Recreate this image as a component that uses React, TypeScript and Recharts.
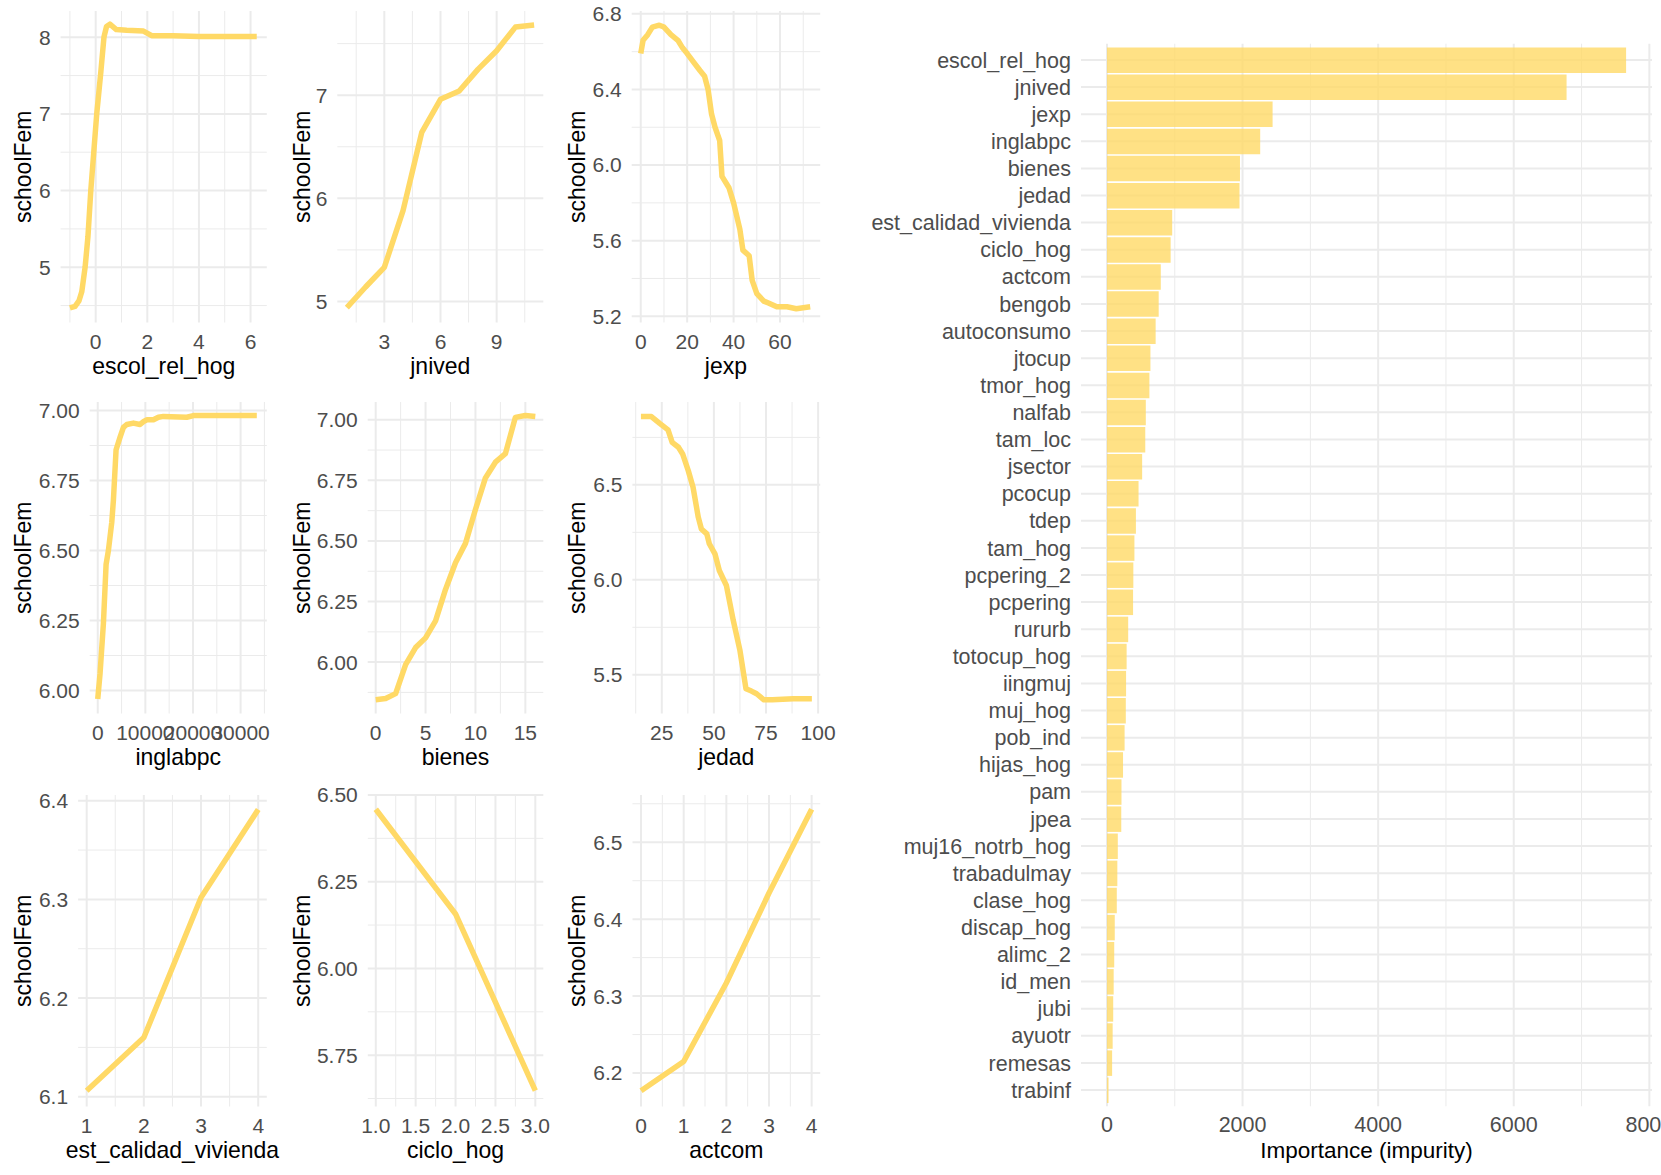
import React from 'react';
import { LineChart, Line, XAxis, YAxis, CartesianGrid, BarChart, Bar } from 'recharts';

// ---------------- data ----------------
const escolX = [-1, -0.8, -0.65, -0.54, -0.41, -0.3, -0.19, 0.04, 0.2, 0.32, 0.42, 0.55, 0.8, 1.2, 1.85, 2.17, 3, 4, 5, 6.24];
const escolY = [4.47, 4.49, 4.56, 4.68, 5.0, 5.4, 6.0, 7.0, 7.55, 8.0, 8.14, 8.17, 8.1, 8.09, 8.08, 8.02, 8.02, 8.01, 8.01, 8.01];

const jnivedX = [1, 2, 3, 4, 5, 6, 7, 8, 9, 10, 11];
const jnivedY = [4.94, 5.14, 5.33, 5.88, 6.64, 6.96, 7.04, 7.25, 7.43, 7.66, 7.68];

const jexpX = [0, 1, 3, 5, 8, 10, 13, 16, 18, 20, 23, 25.5, 27.5, 29, 30.5, 32, 34, 35, 38, 40, 42.7, 44, 46.7, 48, 50, 53, 55, 58.6, 63, 67, 73];
const jexpY = [6.59, 6.66, 6.69, 6.73, 6.74, 6.73, 6.69, 6.66, 6.62, 6.59, 6.54, 6.5, 6.47, 6.4, 6.27, 6.2, 6.13, 5.94, 5.88, 5.8, 5.66, 5.55, 5.52, 5.39, 5.32, 5.28, 5.27, 5.25, 5.25, 5.24, 5.25];

const inglabpcX = [0, 480, 1190, 1750, 2240, 2940, 3290, 3850, 4690, 5390, 6090, 7490, 8890, 9590, 10290, 11690, 12740, 13790, 18690, 20090, 33400];
const inglabpcY = [5.97, 6.06, 6.24, 6.45, 6.5, 6.6, 6.68, 6.86, 6.905, 6.94, 6.95, 6.955, 6.95, 6.96, 6.967, 6.967, 6.976, 6.979, 6.976, 6.982, 6.982];

const bienesX = [0, 1, 2, 3, 4, 5, 6, 7, 8, 9, 10, 11, 12, 13, 14, 15, 16];
const bienesY = [5.845, 5.85, 5.87, 5.99, 6.06, 6.1, 6.17, 6.3, 6.41, 6.49, 6.63, 6.76, 6.825, 6.86, 7.01, 7.018, 7.014];

const jedadX = [15, 20, 24, 28, 30, 33, 35, 37.7, 40, 42.5, 44, 46.6, 47.8, 50.5, 52.6, 56, 59.3, 62.5, 65.4, 68, 70.5, 74, 78, 88, 97];
const jedadY = [6.86, 6.86, 6.824, 6.79, 6.724, 6.698, 6.663, 6.575, 6.487, 6.33, 6.268, 6.242, 6.19, 6.137, 6.049, 5.97, 5.786, 5.628, 5.426, 5.414, 5.4, 5.368, 5.368, 5.374, 5.374];

const calidadX = [1, 2, 3, 4];
const calidadY = [6.106, 6.16, 6.302, 6.391];

const cicloX = [1, 2, 3];
const cicloY = [6.459, 6.157, 5.648];

const actcomX = [0, 1, 2, 3, 4];
const actcomY = [6.177, 6.215, 6.317, 6.434, 6.543];

const impNames = [
  'escol_rel_hog', 'jnived', 'jexp', 'inglabpc', 'bienes', 'jedad', 'est_calidad_vivienda', 'ciclo_hog',
  'actcom', 'bengob', 'autoconsumo', 'jtocup', 'tmor_hog', 'nalfab', 'tam_loc', 'jsector', 'pcocup', 'tdep',
  'tam_hog', 'pcpering_2', 'pcpering', 'rururb', 'totocup_hog', 'iingmuj', 'muj_hog', 'pob_ind', 'hijas_hog',
  'pam', 'jpea', 'muj16_notrb_hog', 'trabadulmay', 'clase_hog', 'discap_hog', 'alimc_2', 'id_men', 'jubi',
  'ayuotr', 'remesas', 'trabinf',
];
const impValues = [
  7657, 6779, 2443, 2260, 1962, 1955, 962, 939,
  794, 763, 718, 641, 626, 573, 565, 519, 466, 427,
  405, 389, 385, 313, 290, 282, 278, 260, 237,
  214, 211, 160, 153, 145, 115, 107, 99, 92,
  84, 76, 23,
];
const impTicks = [0, 2000, 4000, 6000, 8000];
const impMinor = [1000, 3000, 5000, 7000];

// ---------------- style ----------------
const FONT = "'Liberation Sans', Arial, Helvetica, sans-serif";
const LINE_COLOR = '#FFD966';
const GRID = '#EBEBEB';
const TICK_COLOR = '#4D4D4D';
const TICK_FS = 21;
const TITLE_FS = 23;

// ---------------- panels ----------------
const panels = [
  { xLabel: 'escol_rel_hog', xs: escolX, ys: escolY, xDomain: [-1.36, 6.63], yDomain: [4.279, 8.342],
    xTicks: [0, 2, 4, 6], xMinor: [-1, 1, 3, 5], yTicks: [5, 6, 7, 8], yMinor: [4.5, 5.5, 6.5, 7.5], xDec: 0, yDec: 0,
    cellLeft: 0, panelLeft: 60.6, panelRight: 266.8, panelTop: 10.5, titleX: 23 },
  { xLabel: 'jnived', xs: jnivedX, ys: jnivedY, xDomain: [0.49, 11.49], yDomain: [4.796, 7.816],
    xTicks: [3, 6, 9], xMinor: [1.5, 4.5, 7.5, 10.5], yTicks: [5, 6, 7], yMinor: [5.5, 6.5, 7.5], xDec: 0, yDec: 0,
    cellLeft: 278, panelLeft: 337.3, panelRight: 543.3, panelTop: 10.5, titleX: 301.7 },
  { xLabel: 'jexp', xs: jexpX, ys: jexpY, xDomain: [-3.9, 77.3], yDomain: [5.167, 6.815],
    xTicks: [0, 20, 40, 60], xMinor: [10, 30, 50, 70], yTicks: [5.2, 5.6, 6.0, 6.4, 6.8], yMinor: [5.4, 5.8, 6.2, 6.6], xDec: 0, yDec: 1,
    cellLeft: 553, panelLeft: 631.7, panelRight: 820.2, panelTop: 10.5, titleX: 576.7 },
  { xLabel: 'inglabpc', xs: inglabpcX, ys: inglabpcY, xDomain: [-1690, 35500], yDomain: [5.918, 7.0304],
    xTicks: [0, 10000, 20000, 30000], xMinor: [5000, 15000, 25000, 35000], yTicks: [6, 6.25, 6.5, 6.75, 7], yMinor: [6.125, 6.375, 6.625, 6.875], xDec: 0, yDec: 2,
    cellLeft: 0, panelLeft: 89.7, panelRight: 266.8, panelTop: 401.5, titleX: 23 },
  { xLabel: 'bienes', xs: bienesX, ys: bienesY, xDomain: [-0.8, 16.8], yDomain: [5.788, 7.0734],
    xTicks: [0, 5, 10, 15], xMinor: [2.5, 7.5, 12.5], yTicks: [6, 6.25, 6.5, 6.75, 7], yMinor: [5.875, 6.125, 6.375, 6.625, 6.875], xDec: 0, yDec: 2,
    cellLeft: 278, panelLeft: 367.7, panelRight: 543.3, panelTop: 401.5, titleX: 301.7 },
  { xLabel: 'jedad', xs: jedadX, ys: jedadY, xDomain: [10.9, 101], yDomain: [5.296, 6.9364],
    xTicks: [25, 50, 75, 100], xMinor: [12.5, 37.5, 62.5, 87.5], yTicks: [5.5, 6.0, 6.5], yMinor: [5.75, 6.25, 6.75], xDec: 0, yDec: 1,
    cellLeft: 553, panelLeft: 632.4, panelRight: 820.2, panelTop: 401.5, titleX: 576.7 },
  { xLabel: 'est_calidad_vivienda', xs: calidadX, ys: calidadY, xDomain: [0.85, 4.15], yDomain: [6.0901, 6.4058],
    xTicks: [1, 2, 3, 4], xMinor: [1.5, 2.5, 3.5], yTicks: [6.1, 6.2, 6.3, 6.4], yMinor: [6.15, 6.25, 6.35], xDec: 0, yDec: 1,
    cellLeft: 0, panelLeft: 78.1, panelRight: 266.8, panelTop: 795, titleX: 23 },
  { xLabel: 'ciclo_hog', xs: cicloX, ys: cicloY, xDomain: [0.9, 3.1], yDomain: [5.602, 6.5],
    xTicks: [1, 1.5, 2, 2.5, 3], xMinor: [1.25, 1.75, 2.25, 2.75], yTicks: [5.75, 6, 6.25, 6.5], yMinor: [5.625, 5.875, 6.125, 6.375], xDec: 1, yDec: 2,
    cellLeft: 278, panelLeft: 367.8, panelRight: 543.3, panelTop: 795, titleX: 301.7 },
  { xLabel: 'actcom', xs: actcomX, ys: actcomY, xDomain: [-0.2, 4.2], yDomain: [6.1565, 6.5614],
    xTicks: [0, 1, 2, 3, 4], xMinor: [0.5, 1.5, 2.5, 3.5], yTicks: [6.2, 6.3, 6.4, 6.5], yMinor: [6.25, 6.35, 6.45, 6.55], xDec: 0, yDec: 1,
    cellLeft: 553, panelLeft: 632.5, panelRight: 820.2, panelTop: 795, titleX: 576.7 },
];

const MT = 15;
const MR = 28;
const XH = 62;
const PH = 311.5;

function PDPanel({ p }: { p: any }) {
  const data = p.xs.map((x: number, i: number) => ({ x, y: p.ys[i] }));
  const width = p.panelRight + MR - p.cellLeft;
  const height = MT + PH + XH;
  const tick = { fontSize: TICK_FS, fill: TICK_COLOR, fontFamily: FONT };
  const titleStyle = { fontSize: TITLE_FS, fill: '#000000', fontFamily: FONT };
  return (
    <div style={{ position: 'absolute', left: p.cellLeft, top: p.panelTop - MT, width, height }}>
      <LineChart width={width} height={height} data={data} margin={{ top: MT, right: MR, bottom: 0, left: 0 }}>
        <CartesianGrid stroke={GRID} strokeWidth={1} horizontalValues={p.yMinor} verticalValues={p.xMinor} />
        <CartesianGrid stroke={GRID} strokeWidth={2} horizontalValues={p.yTicks} verticalValues={p.xTicks} />
        <XAxis
          type="number"
          dataKey="x"
          domain={p.xDomain}
          ticks={p.xTicks}
          interval={0}
          allowDataOverflow
          tickLine={false}
          axisLine={false}
          tickSize={0}
          tickMargin={12}
          height={XH}
          tick={tick}
          tickFormatter={(v: number) => v.toFixed(p.xDec)}
          label={{ value: p.xLabel, position: 'insideBottom', offset: 10, style: titleStyle }}
        />
        <YAxis
          type="number"
          domain={p.yDomain}
          ticks={p.yTicks}
          interval={0}
          allowDataOverflow
          tickLine={false}
          axisLine={false}
          tickSize={0}
          tickMargin={10}
          width={p.panelLeft - p.cellLeft}
          tick={tick}
          tickFormatter={(v: number) => v.toFixed(p.yDec)}
          label={{
            value: 'schoolFem',
            angle: -90,
            position: 'insideLeft',
            offset: p.titleX - p.cellLeft,
            style: { ...titleStyle, textAnchor: 'middle' },
          }}
        />
        <Line
          type="linear"
          dataKey="y"
          stroke={LINE_COLOR}
          strokeWidth={5.5}
          strokeLinejoin="round"
          dot={false}
          activeDot={false}
          isAnimationActive={false}
        />
      </LineChart>
    </div>
  );
}

function ImportanceChart() {
  const data = impNames.map((name, i) => ({ name, value: impValues[i] }));
  const tick = { fontSize: 21.5, fill: TICK_COLOR, fontFamily: FONT };
  return (
    <div style={{ position: 'absolute', left: 850, top: 0, width: 811, height: 1175 }}>
      <BarChart
        layout="vertical"
        width={811}
        height={1175}
        data={data}
        margin={{ top: 43.7, right: 9, bottom: 0, left: 0 }}
      >
        <CartesianGrid stroke={GRID} strokeWidth={1} horizontal={false} verticalValues={impMinor} />
        <CartesianGrid stroke={GRID} strokeWidth={2} horizontal={false} verticalValues={impTicks} />
        <CartesianGrid stroke={GRID} strokeWidth={2} vertical={false} syncWithTicks />
        <XAxis
          type="number"
          domain={[-383, 8039]}
          ticks={impTicks}
          interval={0}
          allowDataOverflow
          tickLine={false}
          axisLine={false}
          tickSize={0}
          tickMargin={10.7}
          height={68.7}
          tick={tick}
          label={{ value: 'Importance (impurity)', position: 'insideBottom', offset: 16.7, style: { fontSize: 22.5, fill: '#000000', fontFamily: FONT } }}
        />
        <YAxis
          type="category"
          dataKey="name"
          width={231}
          interval={0}
          tickLine={false}
          axisLine={false}
          tickSize={0}
          tickMargin={10}
          padding={{ top: 2.7, bottom: 2.7 }}
          tick={tick}
        />
        <Bar dataKey="value" fill={LINE_COLOR} fillOpacity={0.8} barSize={25.5} isAnimationActive={false} />
      </BarChart>
    </div>
  );
}

export default function App() {
  return (
    <div
      style={{
        position: 'absolute',
        left: 0,
        top: 0,
        width: 1661,
        height: 1175,
        overflow: 'hidden',
        background: '#ffffff',
        fontFamily: FONT,
      }}
    >
      {panels.map((p, i) => (
        <PDPanel key={i} p={p} />
      ))}
      <ImportanceChart />
    </div>
  );
}
